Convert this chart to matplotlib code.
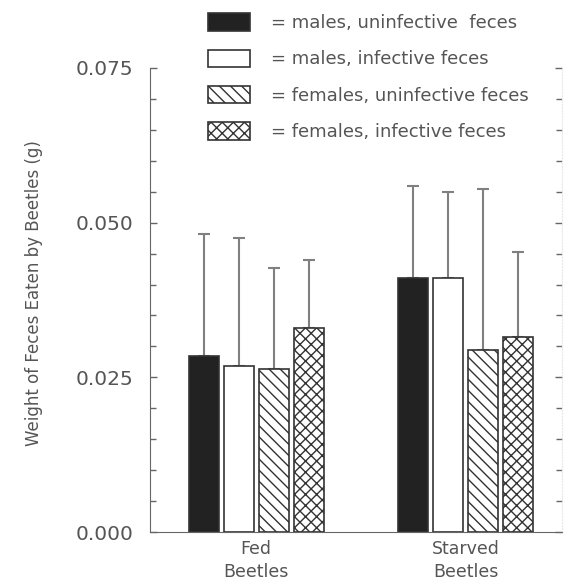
import numpy as np
import matplotlib
matplotlib.use("Agg")
from matplotlib import pyplot as plt
from matplotlib.ticker import MultipleLocator

plt.rcParams['font.family'] = ['DejaVu Sans']
plt.rcParams['hatch.linewidth'] = 1.0
plt.rcParams['hatch.color'] = '#333333'

# Data
groups = ["Fed\nBeetles", "Starved\nBeetles"]
labels = ["= males, uninfective  feces",
          "= males, infective feces",
          "= females, uninfective feces",
          "= females, infective feces"]
means = [[0.0284, 0.0410],
         [0.0268, 0.0411],
         [0.0263, 0.0294],
         [0.0330, 0.0315]]
err_up = [[0.0198, 0.0149],
          [0.0208, 0.0139],
          [0.0163, 0.0261],
          [0.0110, 0.0138]]

fills = ['#222222', 'white', 'white', 'white']
hatches = [None, None, '\\\\\\', 'xxx']
text_col = '#555555'

fig = plt.figure(figsize=(5.67, 5.88), dpi=100)
ax = fig.add_axes([0.2646, 0.0952, 0.7264, 0.7892])

x = np.arange(len(groups))
width = 0.143
step = 0.1667
handles = []
for i in range(4):
    pos = x + (i - 1.5) * step
    b = ax.bar(pos, means[i], width, color=fills[i], edgecolor='#333333',
               linewidth=1.2, hatch=hatches[i], label=labels[i], zorder=2)
    ax.errorbar(pos, means[i], yerr=[np.zeros(2), err_up[i]], fmt='none',
                ecolor='#808080', elinewidth=1.5, capsize=4, capthick=1.5,
                zorder=1)
    handles.append(b)

ax.set_xlim(-0.505, 1.457)
ax.set_ylim(0, 0.075)
ax.yaxis.set_major_locator(MultipleLocator(0.025))
ax.yaxis.set_minor_locator(MultipleLocator(0.005))
ax.yaxis.set_major_formatter(matplotlib.ticker.FormatStrFormatter('%.3f'))
ax.set_xticks(x)
ax.set_xticklabels(groups, fontsize=12.5, color=text_col, linespacing=1.3)
ax.tick_params(axis='x', length=0, pad=6)
ax.tick_params(axis='y', which='both', direction='in', right=True,
               colors='#666666', labelcolor=text_col, labelsize=14.5, pad=12)
ax.tick_params(axis='y', which='major', length=5, width=1)
ax.tick_params(axis='y', which='minor', length=4, width=1)
for t in ax.yaxis.get_ticklines(minor=False)[1::2]:
    t.set_color('#b0b0b0')
for t in ax.yaxis.get_ticklines(minor=True)[1::2]:
    t.set_color('#c4c4c4')

ax.spines['top'].set_visible(False)
ax.spines['left'].set_color('#666666')
ax.spines['bottom'].set_color('#666666')
ax.spines['right'].set_color('#e8e8e8')
ax.spines['right'].set_linestyle(':')

ax.set_ylabel("Weight of Feces Eaten by Beetles (g)", fontsize=12,
              color=text_col)
ax.yaxis.set_label_coords(-0.26, 0.515)

fig.legend(handles=handles, loc='upper left', bbox_to_anchor=(0.338, 1.005),
           frameon=False, fontsize=13, handlelength=2.33, handleheight=1.1,
           labelspacing=0.97, handletextpad=1.15, labelcolor=text_col)

fig.savefig("out.png", dpi=100)
